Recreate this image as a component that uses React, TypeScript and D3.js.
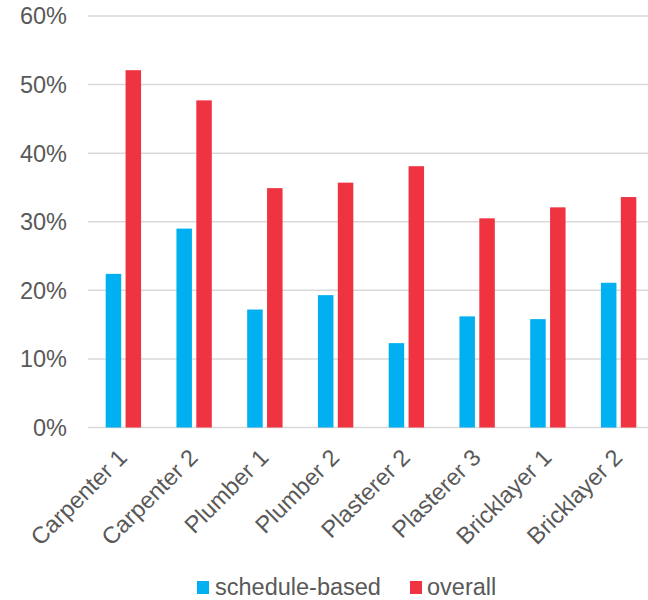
import * as d3 from "d3";
import React from "react";

const categories = [
  "Carpenter 1",
  "Carpenter 2",
  "Plumber 1",
  "Plumber 2",
  "Plasterer 2",
  "Plasterer 3",
  "Bricklayer 1",
  "Bricklayer 2",
];
const seriesNames = ["schedule-based", "overall"];
const scheduleBased = [0.224, 0.29, 0.172, 0.193, 0.123, 0.162, 0.158, 0.211];
const overall = [0.521, 0.477, 0.349, 0.357, 0.381, 0.305, 0.321, 0.336];
const yTicks = [0, 0.1, 0.2, 0.3, 0.4, 0.5, 0.6];
const colors = ["#00B0F0", "#EF3340"];

const width = 648;
const height = 600;
const margin = { top: 16, right: -6, bottom: 172.5, left: 88 };
const font = "'Liberation Sans', Arial, sans-serif";
const textColor = "#595959";

export default function App() {
  const x0 = d3
    .scaleBand()
    .domain(categories)
    .range([margin.left, width - margin.right])
    .paddingInner(0.5)
    .paddingOuter(0.25);

  const x1 = d3
    .scaleBand()
    .domain(seriesNames)
    .range([0, x0.bandwidth()])
    .paddingInner(0.22);

  const y = d3
    .scaleLinear()
    .domain([0, 0.6])
    .range([height - margin.bottom, margin.top]);

  const fmt = d3.format(".0%");
  const values = [scheduleBased, overall];

  return (
    <svg
      width={width}
      height={height}
      style={{ position: "absolute", left: 0, top: 0 }}
      fontFamily={font}
    >
      {/* gridlines */}
      {yTicks.map((t) => (
        <line
          key={t}
          x1={margin.left}
          x2={width - margin.right}
          y1={y(t)}
          y2={y(t)}
          stroke="#D9D9D9"
          strokeWidth={1.5}
        />
      ))}
      {/* y labels */}
      {yTicks.map((t) => (
        <text
          key={"l" + t}
          x={67}
          y={y(t)}
          dy="0.36em"
          textAnchor="end"
          fontSize={23.5}
          fill={textColor}
        >
          {fmt(t)}
        </text>
      ))}
      {/* bars */}
      {categories.map((c, i) => (
        <g key={c} transform={`translate(${x0(c)},0)`}>
          {seriesNames.map((s, j) => (
            <rect
              key={s}
              x={x1(s)}
              y={y(values[j][i])}
              width={x1.bandwidth()}
              height={y(0) - y(values[j][i])}
              fill={colors[j]}
            />
          ))}
        </g>
      ))}
      {/* category labels */}
      {categories.map((c) => (
        <text
          key={"c" + c}
          transform={`translate(${(x0(c) ?? 0) + x0.bandwidth() / 2 + 5},459) rotate(-45)`}
          textAnchor="end"
          fontSize={23.5}
          fill={textColor}
        >
          {c}
        </text>
      ))}
      {/* legend */}
      {[
        { name: seriesNames[0], sx: 197, tx: 215 },
        { name: seriesNames[1], sx: 410, tx: 427 },
      ].map((d, i) => (
        <g key={d.name}>
          <rect x={d.sx} y={581} width={12} height={13} fill={colors[i]} />
          <text x={d.tx} y={595} fontSize={23.5} fill={textColor}>
            {d.name}
          </text>
        </g>
      ))}
    </svg>
  );
}
